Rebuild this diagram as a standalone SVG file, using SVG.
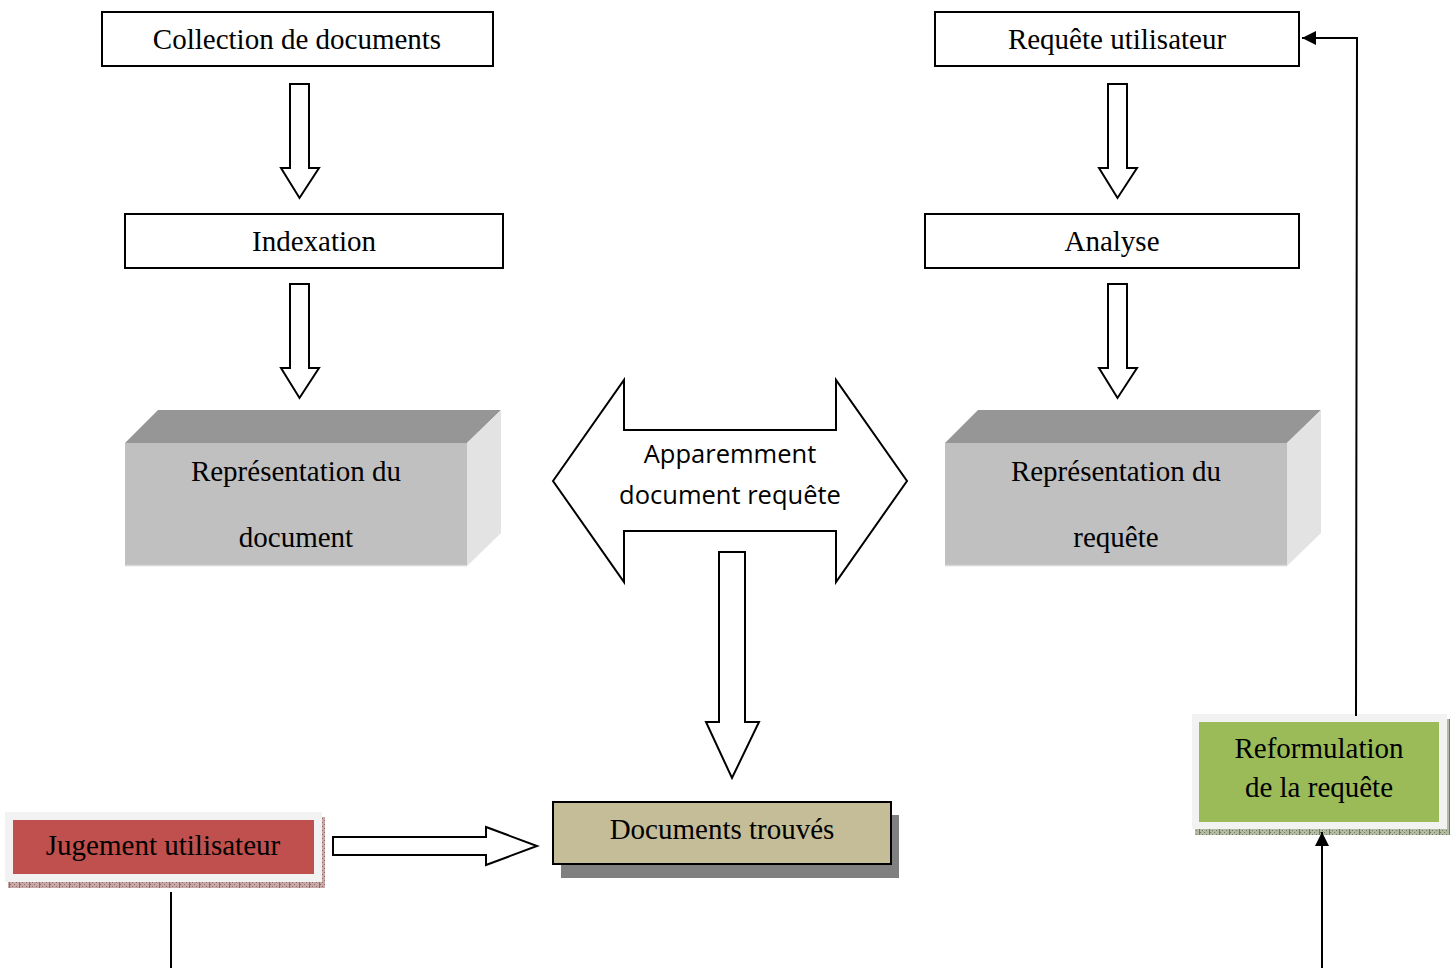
<svg xmlns="http://www.w3.org/2000/svg" width="1456" height="968" viewBox="0 0 1456 968">
  <style>
    .serif { font-family: "Liberation Serif", "Times New Roman", serif; font-size: 29px; fill: #000; text-anchor: middle; }
    .sans { font-family: "Open Sans", "Liberation Sans", sans-serif; font-size: 25.5px; fill: #000; text-anchor: middle; }
    .box { fill: #fff; stroke: #000; stroke-width: 2; }
    .block { fill: #fff; stroke: #000; stroke-width: 2; stroke-linejoin: miter; }
    .front { fill: #c0c0c0; }
    .top { fill: #969696; }
    .side { fill: #e3e3e3; }
    .link { fill: none; stroke: #000; stroke-width: 2; }
  </style>
  <defs>
    <marker id="head" viewBox="0 0 10 10" refX="10" refY="5" markerWidth="7" markerHeight="7" markerUnits="strokeWidth" orient="auto">
      <path d="M0,0 L10,5 L0,10 z" fill="#000"/>
    </marker>
    <!-- dotted edge strip under the framed boxes -->
    <pattern id="dotsRed" width="10" height="4" patternUnits="userSpaceOnUse">
      <rect width="10" height="4" fill="#c9a8a8"/>
      <rect x="0" y="0" width="1" height="1" fill="#8f6a6a"/>
      <rect x="2" y="2" width="1" height="1" fill="#8f6a6a"/>
      <rect x="4" y="0" width="1" height="1" fill="#8f6a6a"/>
      <rect x="6" y="2" width="1" height="1" fill="#8f6a6a"/>
      <rect x="9" y="0" width="1" height="4" fill="#8f6a6a"/>
    </pattern>
    <pattern id="dotsGreen" width="10" height="4" patternUnits="userSpaceOnUse">
      <rect width="10" height="4" fill="#b3bca3"/>
      <rect x="0" y="0" width="1" height="1" fill="#6f7a60"/>
      <rect x="2" y="2" width="1" height="1" fill="#6f7a60"/>
      <rect x="4" y="0" width="1" height="1" fill="#6f7a60"/>
      <rect x="6" y="2" width="1" height="1" fill="#6f7a60"/>
      <rect x="9" y="0" width="1" height="4" fill="#6f7a60"/>
    </pattern>
  </defs>

  <rect width="1456" height="968" fill="#fff"/>

  <!-- document side -->
  <g id="collection">
    <rect class="box" x="102" y="12" width="391" height="54"/>
    <text class="serif" x="297" y="49">Collection de documents</text>
  </g>
  <g id="indexation">
    <rect class="box" x="125" y="214" width="378" height="54"/>
    <text class="serif" x="314" y="251">Indexation</text>
  </g>
  <g id="representation-document">
    <polygon class="top" points="125,443 158,410 501,410 467,443"/>
    <polygon class="side" points="467,443 501,410 501,533 467,566"/>
    <rect class="front" x="125" y="443" width="342" height="123"/>
    <line x1="125" y1="565.5" x2="467" y2="565.5" stroke="#d6d6d6" stroke-width="1.5"/>
    <text class="serif" x="296" y="481">Représentation du</text>
    <text class="serif" x="296" y="547">document</text>
  </g>

  <!-- query side -->
  <g id="requete-utilisateur">
    <rect class="box" x="935" y="12" width="364" height="54"/>
    <text class="serif" x="1117" y="49">Requête utilisateur</text>
  </g>
  <g id="analyse">
    <rect class="box" x="925" y="214" width="374" height="54"/>
    <text class="serif" x="1112" y="251">Analyse</text>
  </g>
  <g id="representation-requete">
    <polygon class="top" points="945,443 978,410 1321,410 1287,443"/>
    <polygon class="side" points="1287,443 1321,410 1321,533 1287,566"/>
    <rect class="front" x="945" y="443" width="342" height="123"/>
    <line x1="945" y1="565.5" x2="1287" y2="565.5" stroke="#d6d6d6" stroke-width="1.5"/>
    <text class="serif" x="1116" y="481">Représentation du</text>
    <text class="serif" x="1116" y="547">requête</text>
  </g>

  <!-- matching -->
  <g id="appariement">
    <polygon class="block" points="553,481 624,380 624,430 836,430 836,380 907,481 836,582 836,531 624,531 624,582"/>
    <text class="sans" x="730" y="463">Apparemment</text>
    <text class="sans" x="730" y="504">document requête</text>
  </g>

  <g id="documents-trouves">
    <rect x="561" y="815" width="338" height="63" fill="#808080"/>
    <rect x="553" y="802" width="338" height="62" fill="#c4bd97" stroke="#000" stroke-width="2"/>
    <text class="serif" x="722" y="839">Documents trouvés</text>
  </g>

  <g id="jugement">
    <rect x="8" y="882" width="317" height="6" fill="url(#dotsRed)"/>
    <rect x="322" y="817" width="3" height="71" fill="url(#dotsRed)"/>
    <rect x="5" y="812" width="317" height="70" fill="#f2f2f2"/>
    <rect x="13" y="820" width="301" height="54" fill="#c0504d"/>
    <text class="serif" x="163" y="855">Jugement utilisateur</text>
  </g>

  <g id="reformulation">
    <rect x="1195" y="829" width="255" height="6" fill="url(#dotsGreen)"/>
    <rect x="1447" y="719" width="3" height="116" fill="url(#dotsGreen)"/>
    <rect x="1192" y="714" width="255" height="115" fill="#f2f2f2"/>
    <rect x="1199" y="722" width="240" height="100" fill="#9bbb59"/>
    <text class="serif" x="1319" y="758">Reformulation</text>
    <text class="serif" x="1319" y="797">de la requête</text>
  </g>

  <!-- connectors -->
  <g id="connectors">
    <polygon class="block" points="290,84 309,84 309,168 319,168 299.5,198 281,168 290,168"/>
    <polygon class="block" points="290,284 309,284 309,368 319,368 299.5,398 281,368 290,368"/>
    <polygon class="block" points="1108,84 1127,84 1127,168 1137,168 1117.5,198 1099,168 1108,168"/>
    <polygon class="block" points="1108,284 1127,284 1127,368 1137,368 1117.5,398 1099,368 1108,368"/>
    <polygon class="block" points="719,552 745,552 745,722 759,722 732,778 706,722 719,722"/>
    <polygon class="block" points="333,837 486,837 486,827 537,846 486,865 486,855 333,855"/>
    <line class="link" x1="171" y1="892" x2="171" y2="968"/>
    <polyline class="link" points="1356,716 1357,38 1302,38" marker-end="url(#head)"/>
    <line class="link" x1="1322" y1="968" x2="1322" y2="832" marker-end="url(#head)"/>
  </g>
</svg>
